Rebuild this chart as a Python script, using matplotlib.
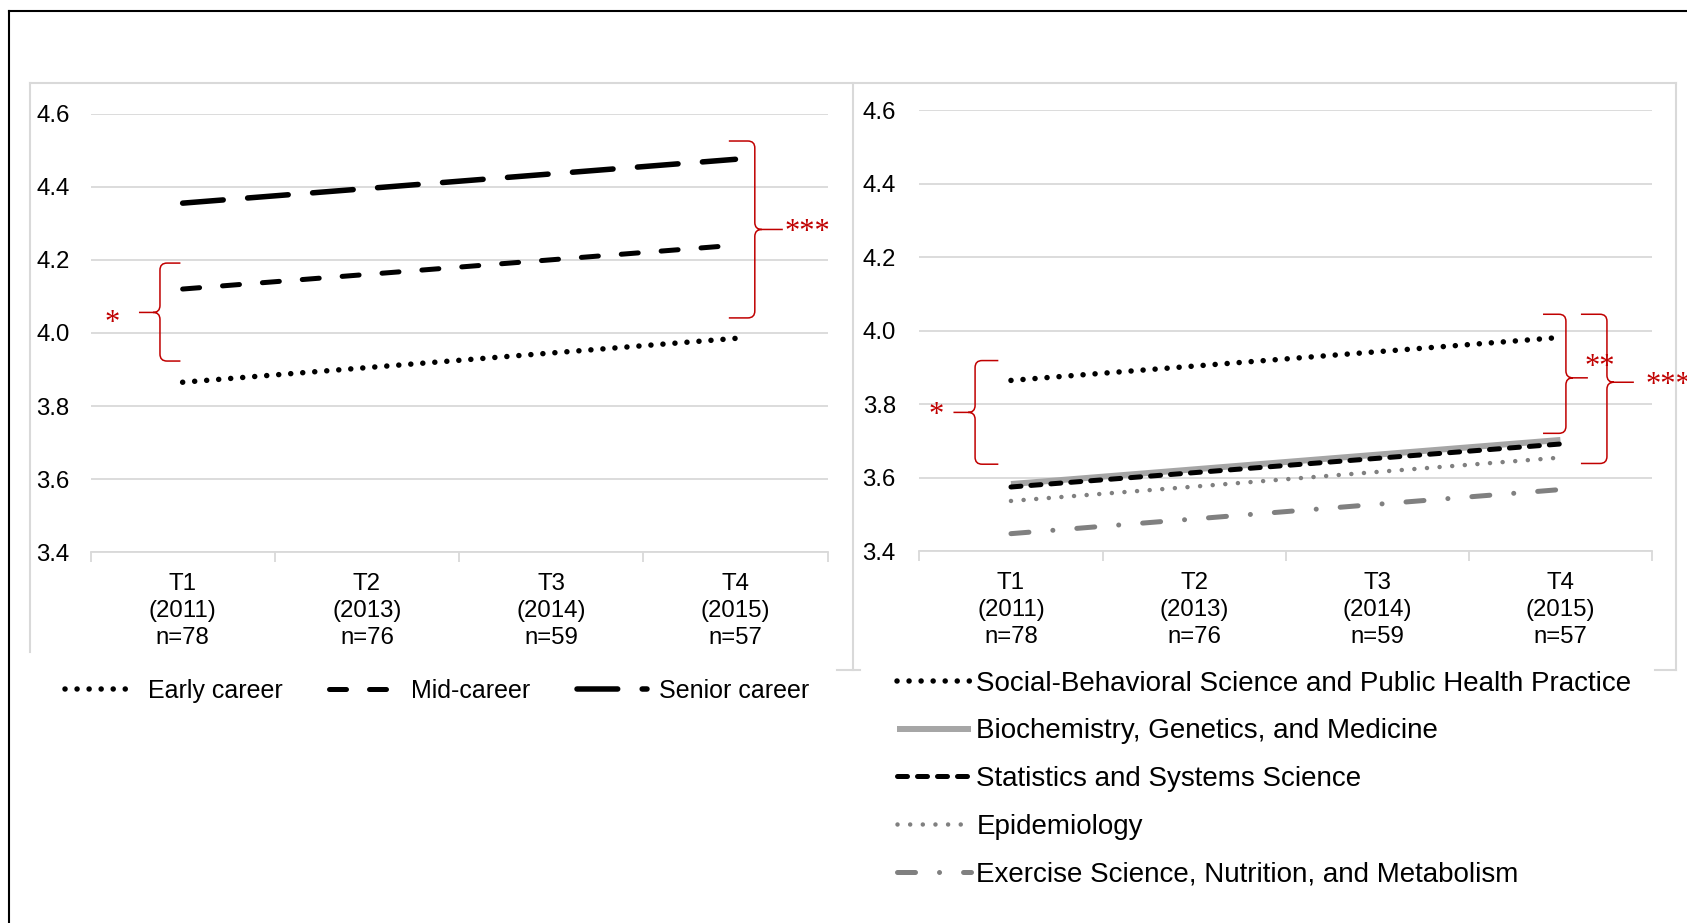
import matplotlib.pyplot as plt
from matplotlib.lines import Line2D
from matplotlib.path import Path
from matplotlib.patches import PathPatch

plt.rcParams['font.family'] = ['Liberation Sans', 'DejaVu Sans']

# 測定時点
periods = ["T1", "T2", "T3", "T4"]
years = ["2011", "2013", "2014", "2015"]
n_sizes = [78, 76, 59, 57]

# 左: キャリア段階
early_career = [3.865, 3.905, 3.945, 3.985]
mid_career = [4.12, 4.16, 4.20, 4.24]
senior_career = [4.355, 4.395, 4.435, 4.475]

# 右: 分野
social_behav = [3.865, 3.904, 3.943, 3.982]
biochem = [3.583, 3.623, 3.663, 3.703]
stats_sys = [3.575, 3.614, 3.653, 3.692]
epidemiology = [3.537, 3.576, 3.616, 3.655]
exercise = [3.448, 3.488, 3.528, 3.568]

y_ticks = [3.4, 3.6, 3.8, 4.0, 4.2, 4.4, 4.6]

W, H = 1687, 923
RED = '#c00000'
GRID = '#d9d9d9'
PT = 0.72  # px -> pt

fig = plt.figure(figsize=(W / 100, H / 100), dpi=100)


def rect(x0, x1, ytop, ybot):
    return [x0 / W, 1 - ybot / H, (x1 - x0) / W, (ybot - ytop) / H]


ax1 = fig.add_axes(rect(90.5, 827.6, 113.6, 552.2))
ax2 = fig.add_axes(rect(919.4, 1652, 110.3, 551.3))

labels = [f"{p}\n({y})\nn={n}" for p, y, n in zip(periods, years, n_sizes)]
x = list(range(len(periods)))


def style(ax, ypad):
    ax.set_xlim(-0.5, 3.5)
    ax.set_ylim(3.4, 4.6)
    ax.set_yticks(y_ticks, [f"{v:.1f}" for v in y_ticks])
    ax.set_xticks([-0.5, 0.5, 1.5, 2.5, 3.5], [])
    ax.set_xticks(x, labels, minor=True)
    ax.tick_params(axis='x', which='major', length=7, width=1.3, color=GRID)
    ax.tick_params(axis='x', which='minor', length=0, pad=15, labelsize=17.3)
    ax.tick_params(axis='y', length=0, pad=ypad, labelsize=17.3)
    for s in ['top', 'right', 'left']:
        ax.spines[s].set_visible(False)
    ax.spines['bottom'].set_color(GRID)
    ax.spines['bottom'].set_linewidth(1.3)
    ax.grid(axis='y', color=GRID, lw=1.3)
    ax.set_axisbelow(True)
    for t in ax.get_xticklabels(minor=True):
        t.set_linespacing(1.3)


style(ax1, 15)
style(ax2, 17)

# 左パネルの線
ax1.plot(x, early_career, color='black', lw=5.5 * PT, dashes=(0.01, 2.18),
         dash_capstyle='round', label='Early career')
ax1.plot(x, mid_career, color='black', lw=5 * PT, dashes=(3.4, 4.6),
         dash_capstyle='round', label='Mid-career')
ax1.plot(x, senior_career, color='black', lw=5.5 * PT, dashes=(7.4, 4.45),
         dash_capstyle='round', label='Senior career')

# 右パネルの線
ax2.plot(x, social_behav, color='black', lw=5.5 * PT, dashes=(0.01, 2.18),
         dash_capstyle='round', label='Social-Behavioral Science and Public Health Practice')
ax2.plot(x, biochem, color='#a6a6a6', lw=6 * PT, solid_capstyle='butt',
         label='Biochemistry, Genetics, and Medicine')
ax2.plot(x, stats_sys, color='black', lw=5 * PT, dashes=(2, 2),
         dash_capstyle='round', label='Statistics and Systems Science')
ax2.plot(x, epidemiology, color='#808080', lw=4.5 * PT, dashes=(0.01, 2.8),
         dash_capstyle='round', label='Epidemiology')
ax2.plot(x, exercise, color='#808080', lw=5 * PT, dashes=(3.6, 4.8, 0.01, 4.8),
         dash_capstyle='round', label='Exercise Science, Nutrition, and Metabolism')


def brace(ax, xt, xs, xp, yt, yb, ym, rpx=7):
    # 中括弧を描く (xt: 先端, xs: 背, xp: 突起)
    pos = ax.get_position()
    rx = rpx * 4.0 / (pos.width * W)
    ry = rpx * 1.2 / (pos.height * H)
    st = 1 if xt > xs else -1
    d = 1 if xp > xs else -1
    verts = [(xt, yt), (xs + st * rx, yt), (xs, yt), (xs, yt - ry),
             (xs, ym + ry), (xs, ym), (xs + d * rx, ym), (xp, ym),
             (xs + d * rx, ym), (xs, ym), (xs, ym - ry),
             (xs, yb + ry), (xs, yb), (xs + st * rx, yb), (xt, yb)]
    codes = [Path.MOVETO, Path.LINETO, Path.CURVE3, Path.CURVE3,
             Path.LINETO, Path.CURVE3, Path.CURVE3, Path.LINETO,
             Path.MOVETO, Path.CURVE3, Path.CURVE3,
             Path.LINETO, Path.CURVE3, Path.CURVE3, Path.LINETO]
    ax.add_patch(PathPatch(Path(verts, codes), fill=False, edgecolor=RED,
                           lw=1.1, clip_on=False))


def stars(ax, xx, yy, s, ha='center'):
    ax.text(xx, yy, s, color=RED, fontsize=22, family='Liberation Serif',
            ha=ha, va='center', clip_on=False)


brace(ax1, -0.012, -0.123, -0.237, 4.191, 3.923, 4.056)
stars(ax1, -0.383, 4.025, '*')
brace(ax1, 2.964, 3.105, 3.257, 4.525, 4.041, 4.283)
stars(ax1, 3.39, 4.275, '***')

brace(ax2, -0.069, -0.196, -0.314, 3.919, 3.637, 3.778)
stars(ax2, -0.409, 3.77, '*')
brace(ax2, 2.905, 3.03, 3.15, 4.045, 3.721, 3.872)
stars(ax2, 3.216, 3.9, '**')
brace(ax2, 3.112, 3.254, 3.401, 4.045, 3.639, 3.86)
# 元図でも右端で切れている
stars(ax2, 3.466, 3.85, '***', ha='left')


# 枠線
def fline(xs, ys, **kw):
    fig.add_artist(Line2D([v / W for v in xs], [1 - v / H for v in ys],
                          transform=fig.transFigure, **kw))


fline([9, 9], [10.5, H], color='black', lw=1.5)
fline([9, W], [10.5, 10.5], color='black', lw=1.5)
fline([30, 1676], [83, 83], color=GRID, lw=1.5)
fline([30, 30], [83, 652], color=GRID, lw=1.5)
fline([853, 853], [83, 670], color=GRID, lw=1.5)
fline([1676, 1676], [83, 670], color=GRID, lw=1.5)
fline([837, 860], [670, 670], color=GRID, lw=1.5)
fline([1655, 1676], [670, 670], color=GRID, lw=1.5)

# 凡例
fig.legend(handles=ax1.get_lines(), loc='center left',
           bbox_to_anchor=(65 / W, 1 - 691 / H), ncol=3, frameon=False,
           fontsize=18, handlelength=2.8, handletextpad=0.5,
           columnspacing=1.85, borderpad=0, borderaxespad=0)
fig.legend(handles=ax2.get_lines(), loc='center left',
           bbox_to_anchor=(897 / W, 1 - 779 / H), ncol=1, frameon=False,
           fontsize=20, handlelength=2.66, handletextpad=0.2,
           labelspacing=0.78, borderpad=0, borderaxespad=0)

fig.savefig('out.png', dpi=100)
